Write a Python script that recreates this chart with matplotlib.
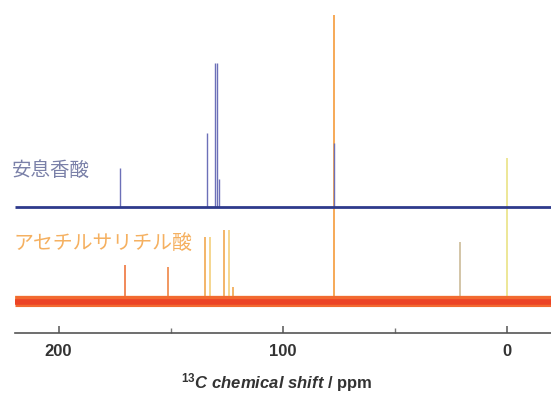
import matplotlib
matplotlib.use("Agg")
import matplotlib.pyplot as plt
from matplotlib.ticker import MultipleLocator

plt.rcParams['mathtext.fontset'] = 'custom'
plt.rcParams['mathtext.rm'] = 'Liberation Sans:bold'
plt.rcParams['mathtext.it'] = 'Liberation Sans:italic:bold'

# Benzoic acid (upper trace): shifts in ppm and relative peak heights
benzoic_ppm = [172.5, 133.8, 130.2, 129.3, 128.5, 77.2]
benzoic_height = [39, 74, 144, 144, 28, 64]

# Acetylsalicylic acid (lower trace)
aspirin_ppm = [170.2, 151.2, 134.9, 132.5, 126.2, 124.0, 122.3, 20.9, 0.0, 77.2]
aspirin_height = [36, 34, 64, 64, 71, 71, 14, 59, 143, 286]
aspirin_colors = ['#EE6A2C', '#EE7A36', '#F0A040', '#F2CC70', '#F0A040',
                  '#F2CC70', '#F0A040', '#C8B590', '#E8E07A', '#F4922A']

label_benzoic = '安息香酸'
label_aspirin = 'アセチルサリチル酸'
xlabel_text = r'$^{13}$$\mathit{C\ chemical\ shift}$ / ppm'
major_ticks = [200, 100, 0]

benzoic_base = 126
aspirin_base = 32

fig = plt.figure(figsize=(5.51, 4.0), dpi=100)
ax = fig.add_axes([15 / 551, 67 / 400, 536 / 551, 333 / 400])
ax.set_xlim(219.4, -19.6)
ax.set_ylim(0, 333)

# lower spectrum: peaks behind, thick baseline band
ax.vlines(aspirin_ppm, aspirin_base,
          [aspirin_base + h for h in aspirin_height],
          colors=aspirin_colors, linewidth=1.1, zorder=1)
ax.plot([219.4, -19.6], [aspirin_base + 2, aspirin_base + 2],
        color='#F59A4A', linewidth=4.5, zorder=2, solid_capstyle='butt')
ax.plot([219.4, -19.6], [aspirin_base, aspirin_base],
        color='#F26A30', linewidth=8, zorder=2, solid_capstyle='butt')
ax.plot([219.4, -19.6], [aspirin_base - 1, aspirin_base - 1],
        color='#EC4326', linewidth=4, zorder=2, solid_capstyle='butt')

# upper spectrum
ax.vlines(benzoic_ppm, benzoic_base,
          [benzoic_base + h for h in benzoic_height],
          colors='#6C70B8', linewidth=1.0, zorder=3)
ax.plot([219.4, -19.6], [benzoic_base, benzoic_base],
        color='#2E3A8C', linewidth=2.0, zorder=4, solid_capstyle='butt')

for side in ['top', 'left', 'right']:
    ax.spines[side].set_visible(False)
ax.spines['bottom'].set_color('#555555')
ax.spines['bottom'].set_linewidth(1.2)
ax.set_yticks([])
ax.set_xticks(major_ticks)
ax.xaxis.set_minor_locator(MultipleLocator(50))
ax.tick_params(axis='x', which='major', direction='in', length=5, width=1.1,
               color='#555555', pad=8, labelsize=12, labelcolor='#333333')
ax.tick_params(axis='x', which='minor', direction='in', length=3.5, width=1.0,
               color='#777777')
for lbl in ax.get_xticklabels():
    lbl.set_fontfamily('Liberation Sans')
    lbl.set_fontweight('bold')
ax.patch.set_alpha(0)

fig.text(277 / 551, 1 - 383 / 400, xlabel_text, ha='center', va='center',
         fontsize=12, color='#333333', family='Liberation Sans',
         fontweight='bold')

fig.text(12 / 551, 1 - 170 / 400, label_benzoic, ha='left', va='center',
         fontsize=14, color='#7A80A8', family='Noto Sans CJK JP')
fig.text(14 / 551, 1 - 244 / 400, label_aspirin, ha='left', va='center',
         fontsize=14.3, color='#F5B060', family='Noto Sans CJK JP')

fig.savefig('out.png', dpi=100)
